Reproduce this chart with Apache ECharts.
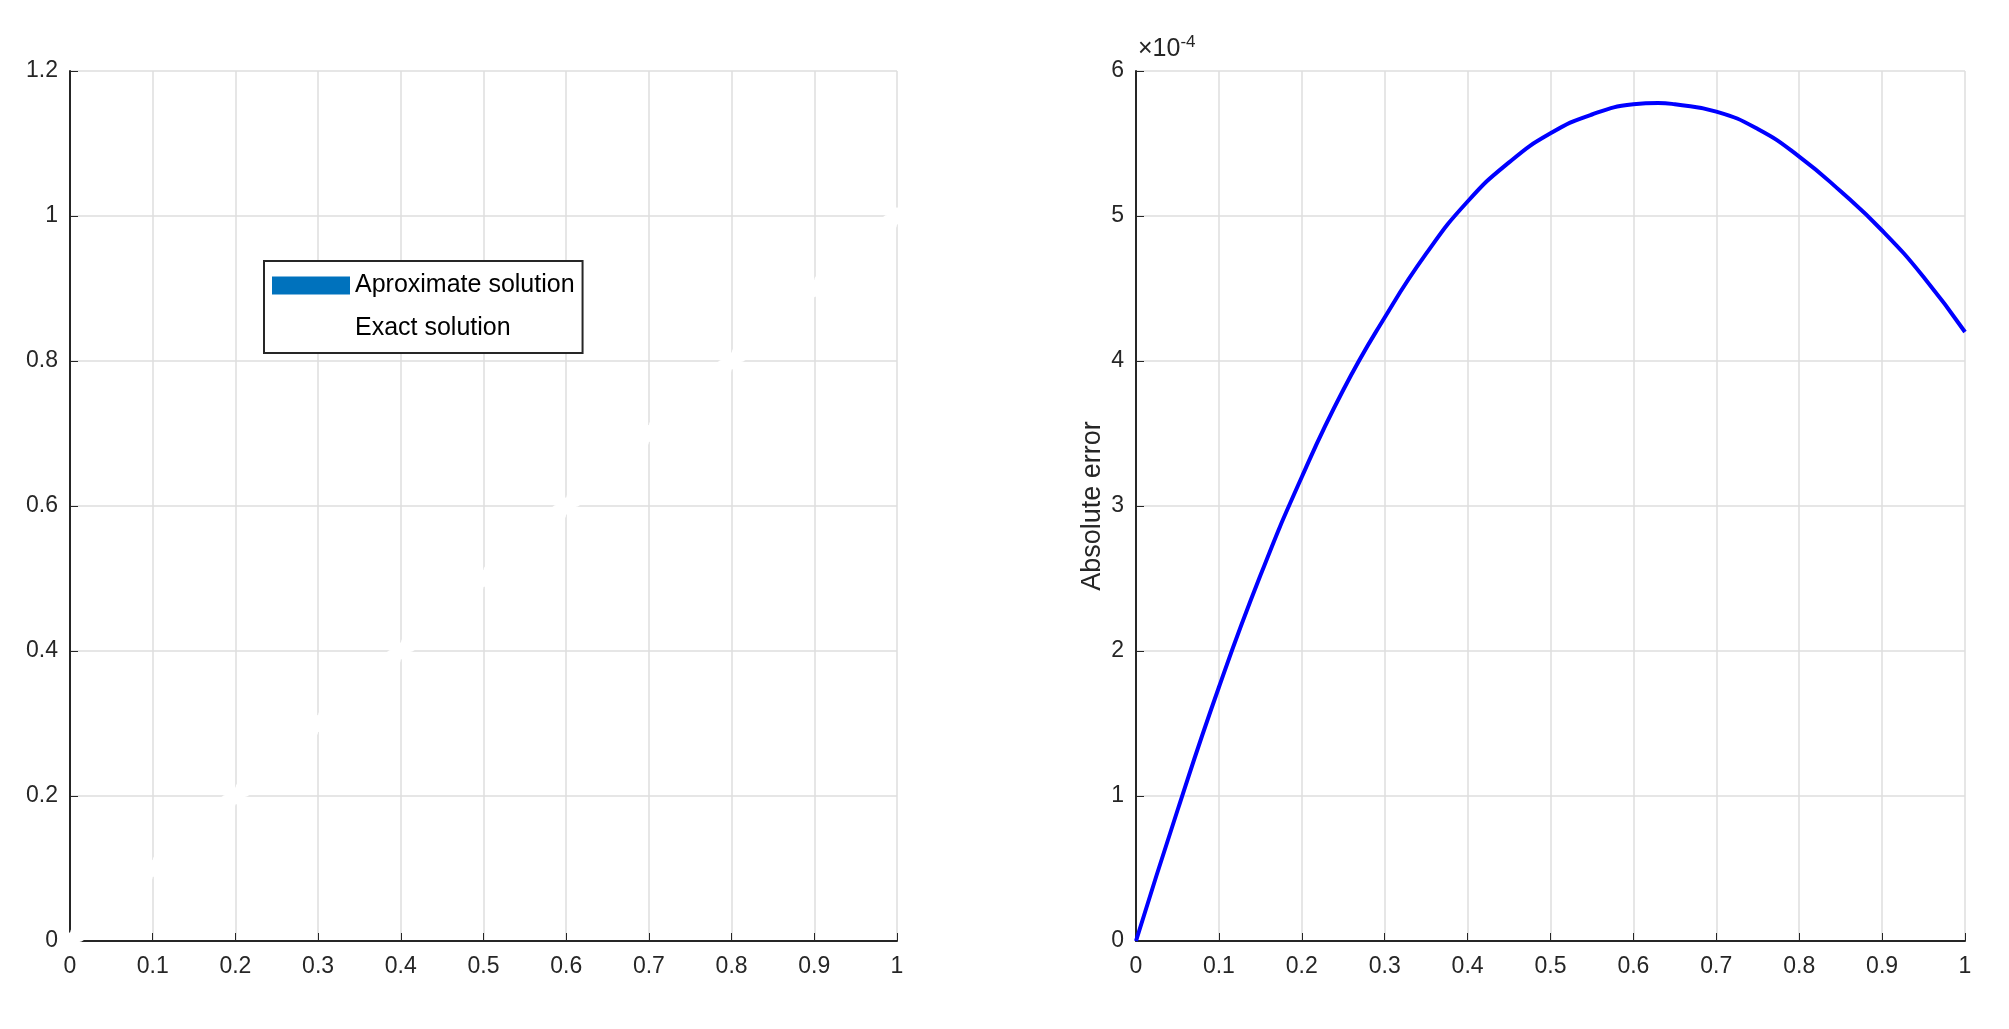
<!DOCTYPE html>
<html><head><meta charset="utf-8">
<script src="https://cdn.jsdelivr.net/npm/echarts@6/dist/echarts.min.js"></script>
<style>html,body{margin:0;background:#fff}#main{width:2009px;height:1029px}</style>
</head><body><div id="main"></div>
<script>
var xs=[0,0.01,0.02,0.03,0.04,0.05,0.06,0.07,0.08,0.09,0.1,0.11,0.12,0.13,0.14,0.15,0.16,0.17,0.18,0.19,0.2,
0.21,0.22,0.23,0.24,0.25,0.26,0.27,0.28,0.29,0.3,0.31,0.32,0.33,0.34,0.35,0.36,0.37,0.38,0.39,0.4,
0.41,0.42,0.43,0.44,0.45,0.46,0.47,0.48,0.49,0.5,0.51,0.52,0.53,0.54,0.55,0.56,0.57,0.58,0.59,0.6,
0.61,0.62,0.63,0.64,0.65,0.66,0.67,0.68,0.69,0.7,0.71,0.72,0.73,0.74,0.75,0.76,0.77,0.78,0.79,0.8,
0.81,0.82,0.83,0.84,0.85,0.86,0.87,0.88,0.89,0.9,0.91,0.92,0.93,0.94,0.95,0.96,0.97,0.98,0.99,1];
var exact=xs.slice(); // exact solution equals x on this plot
var errX=[0,0.05,0.1,0.15,0.2,0.25,0.3,0.35,0.4,0.45,0.5,0.55,0.6,0.63,0.65,0.7,0.75,0.8,0.85,0.9,0.95,1];
var errY=[0,0.9e-4,1.75e-4,2.52e-4,3.2e-4,3.8e-4,4.3e-4,4.74e-4,5.1e-4,5.37e-4,5.57e-4,5.7e-4,5.77e-4,5.78e-4,5.77e-4,5.72e-4,5.6e-4,5.41e-4,5.17e-4,4.9e-4,4.58e-4,4.2e-4];

var font='"Liberation Sans Narrow","Liberation Sans",Arial,sans-serif';
var lbl={color:'#262626',fontFamily:font,fontSize:23};
function xAxis(gi){return {type:'value',gridIndex:gi,min:0,max:1,interval:0.1,
  axisLine:{lineStyle:{color:'#262626',width:2}},axisTick:{inside:true,length:8,lineStyle:{color:'#262626'}},
  axisLabel:Object.assign({margin:14},lbl),splitLine:{lineStyle:{color:'#dedede',width:1.5}}};}
function yAxis(gi,max,iv,fmt){return {type:'value',gridIndex:gi,min:0,max:max,interval:iv,
  axisLine:{show:true,lineStyle:{color:'#262626',width:2}},axisTick:{inside:true,length:8,lineStyle:{color:'#262626'}},
  axisLabel:Object.assign({margin:12,formatter:fmt},lbl),splitLine:{lineStyle:{color:'#dedede',width:1.5}}};}

var chart=echarts.init(document.getElementById('main'));
chart.setOption({
  animation:false,
  grid:[{left:70,right:1112,top:71,bottom:88},{left:1136,right:44,top:71,bottom:88}],
  xAxis:[xAxis(0),xAxis(1)],
  yAxis:[yAxis(0,1.2,0.2,function(v){return +v.toFixed(1);}),
    Object.assign(yAxis(1,6e-4,1e-4,function(v){return Math.round(v*1e4);}),
      {name:'Absolute error',nameLocation:'middle',nameGap:30,
       nameTextStyle:{fontFamily:'"Liberation Sans",Arial,sans-serif',fontSize:27,color:'#262626'}})],
  legend:{left:264,top:261,orient:'vertical',backgroundColor:'#fff',borderColor:'#262626',borderWidth:2,
    padding:[12,8,12,8],itemGap:18,itemWidth:78,itemHeight:18,
    textStyle:{fontFamily:font,fontSize:25,color:'#000'},
    data:[{name:'Aproximate solution',icon:'rect',itemStyle:{color:'#0072bd'}},
          {name:'Exact solution',icon:'emptyCircle',itemStyle:{color:'#fff',borderColor:'#d95319',borderWidth:3}}]},
  graphic:[{type:'text',left:1138,top:34,style:{rich:{a:{fontFamily:font,fontSize:25,fill:'#262626'},
    b:{fontFamily:font,fontSize:17,fill:'#262626',verticalAlign:'top',padding:[0,0,14,0]}},
    text:'{a|\u00d710}{b|-4}'}}],
  series:[
    {name:'Aproximate solution',type:'line',xAxisIndex:0,yAxisIndex:0,showSymbol:false,z:2,
     lineStyle:{color:'#0072bd',width:4},itemStyle:{color:'#0072bd'},
     data:xs.map(function(x,i){return [x,exact[i]];})},
    {name:'Exact solution',type:'line',xAxisIndex:0,yAxisIndex:0,symbol:'emptyCircle',symbolSize:15,
     showSymbol:true,showAllSymbol:true,z:3,lineStyle:{width:0,opacity:0},
     itemStyle:{color:'#fff',borderColor:'#d95319',borderWidth:2.5},
     data:xs.map(function(x,i){return [x,exact[i]];})},
    {name:'error',type:'line',xAxisIndex:1,yAxisIndex:1,showSymbol:false,smooth:0.5,
     lineStyle:{color:'#0000ff',width:4},data:errX.map(function(x,i){return [x,errY[i]];})}
  ]
});
</script></body></html>
